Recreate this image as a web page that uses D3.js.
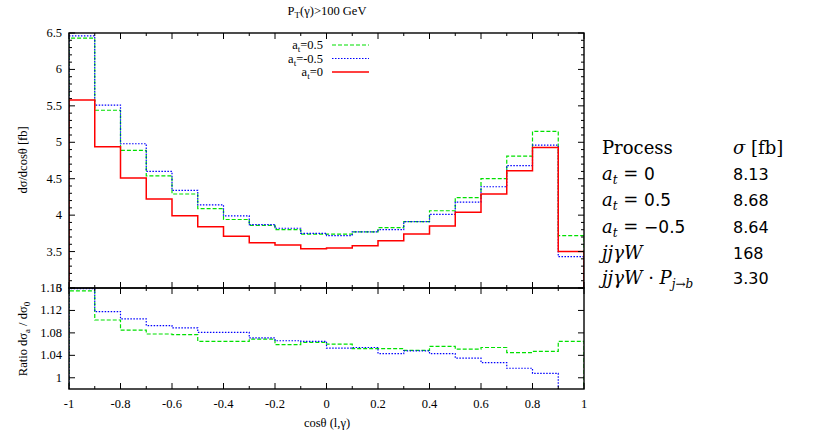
<!DOCTYPE html>
<html lang="en">
    <head>
        <meta charset="utf-8">
        <title>cos theta distribution</title>
        <script type="text/javascript" src="https://cdn.jsdelivr.net/npm/d3@7/dist/d3.min.js"></script>
        <style>
            body { margin: 0; background: #fff; }
        </style>
    </head>
    <body>
        <div id="chart"></div>
        <script type="text/javascript">
            // bins: lower edges of the cos(theta) bins, width 0.1
            var binLo = [-1, -0.9, -0.8, -0.7, -0.6, -0.5, -0.4, -0.3, -0.2, -0.1,
                         0, 0.1, 0.2, 0.3, 0.4, 0.5, 0.6, 0.7, 0.8, 0.9];
            var binHi = 1;
            // d sigma / d cos(theta) [fb]
            var at0   = [5.58, 4.94, 4.51, 4.22, 3.99, 3.84, 3.71, 3.62, 3.59, 3.54,
                         3.55, 3.58, 3.65, 3.74, 3.85, 4.04, 4.29, 4.61, 4.93, 3.50];
            var atP05 = [6.43, 5.44, 4.89, 4.54, 4.29, 4.09, 3.94, 3.86, 3.80, 3.74,
                         3.74, 3.77, 3.83, 3.91, 4.06, 4.24, 4.50, 4.81, 5.15, 3.72];
            var atM05 = [6.46, 5.51, 4.98, 4.60, 4.34, 4.14, 3.99, 3.87, 3.82, 3.75,
                         3.72, 3.77, 3.80, 3.91, 4.01, 4.18, 4.39, 4.68, 4.96, 3.43];
            // ratio d sigma_a / d sigma_0
            var ratioP05 = [1.155, 1.103, 1.085, 1.078, 1.077, 1.065, 1.065, 1.069, 1.059, 1.063,
                            1.060, 1.052, 1.052, 1.049, 1.056, 1.051, 1.054, 1.045, 1.047, 1.065];
            var ratioM05 = [1.159, 1.118, 1.105, 1.093, 1.089, 1.081, 1.081, 1.071, 1.066, 1.065,
                            1.053, 1.054, 1.043, 1.048, 1.043, 1.035, 1.027, 1.017, 1.008, 0.975];
            // tick labels
            var xTicks = [-1, -0.8, -0.6, -0.4, -0.2, 0, 0.2, 0.4, 0.6, 0.8, 1];
            var yTicks = [3, 3.5, 4, 4.5, 5, 5.5, 6, 6.5];
            var rTicks = [1, 1.04, 1.08, 1.12, 1.16];
            // cross-section table
            var procNames = ["at0", "atP05", "atM05", "jjgW", "jjgWP"];
            var procSigma = ["8.13", "8.68", "8.64", "168", "3.30"];

            var w = 813, h = 430;
            var left = 69, right = 584;
            var upTop = 33, upBot = 288, loBot = 389;
            var serif = "'Liberation Serif', 'Times New Roman', serif";
            var tabSerif = "'DejaVu Serif', serif";
            var sans = "'DejaVu Sans', sans-serif";

            var svg = d3.select("#chart").append("svg")
                        .attr("width", w)
                        .attr("height", h)
                        .attr("font-family", serif);

            var x = d3.scaleLinear().domain([-1, 1]).range([left, right]);
            var y = d3.scaleLinear().domain([3, 6.5]).range([upBot, upTop]);
            var yr = d3.scaleLinear().domain([0.98, 1.16]).range([loBot, upBot]);

            svg.append("clipPath").attr("id", "clipUp")
               .append("rect").attr("x", left).attr("y", upTop)
               .attr("width", right - left).attr("height", upBot - upTop);
            svg.append("clipPath").attr("id", "clipLo")
               .append("rect").attr("x", left).attr("y", upBot)
               .attr("width", right - left).attr("height", loBot - upBot);

            // histogram steps, with drops to the bottom at both ends
            function stepPath(vals, ys, base) {
                var pts = [[binLo[0], base]];
                vals.forEach(function (v, i) { pts.push([binLo[i], v]); });
                pts.push([binHi, vals[vals.length - 1]]);
                pts.push([binHi, base]);
                return d3.line()
                         .x(function (d) { return x(d[0]); })
                         .y(function (d) { return ys(d[1]); })
                         .curve(d3.curveStepAfter)(pts);
            }

            var styles = {
                green: { color: "#00e000", dash: "4,2", width: 1.2 },
                blue:  { color: "#0000ff", dash: "1.5,1.5", width: 1.2 },
                red:   { color: "#ff0000", dash: null, width: 1.5 }
            };

            function drawSeries(g, vals, ys, base, st) {
                g.append("path")
                 .attr("d", stepPath(vals, ys, base))
                 .attr("fill", "none")
                 .attr("stroke", st.color)
                 .attr("stroke-width", st.width)
                 .attr("stroke-dasharray", st.dash);
            }

            var gUp = svg.append("g").attr("clip-path", "url(#clipUp)");
            drawSeries(gUp, atP05, y, 3, styles.green);
            drawSeries(gUp, atM05, y, 3, styles.blue);
            drawSeries(gUp, at0, y, 3, styles.red);

            var gLo = svg.append("g").attr("clip-path", "url(#clipLo)");
            drawSeries(gLo, ratioP05, yr, 0.9, styles.green);
            drawSeries(gLo, ratioM05, yr, 0.9, styles.blue);

            // ticks, gnuplot style: inside, mirrored
            var ticks = svg.append("g").attr("stroke", "#000").attr("stroke-width", 1);
            function hTick(ypos, len) {
                ticks.append("line").attr("x1", left).attr("x2", left + len).attr("y1", ypos).attr("y2", ypos);
                ticks.append("line").attr("x1", right).attr("x2", right - len).attr("y1", ypos).attr("y2", ypos);
            }
            function vTick(xpos, top, bot, len) {
                ticks.append("line").attr("x1", xpos).attr("x2", xpos).attr("y1", bot).attr("y2", bot - len);
                ticks.append("line").attr("x1", xpos).attr("x2", xpos).attr("y1", top).attr("y2", top + len);
            }
            y.ticks(35).forEach(function (v) {
                var major = yTicks.some(function (t) { return Math.abs(t - v) < 1e-6; });
                hTick(y(v), major ? 6 : 3);
            });
            rTicks.forEach(function (v) { hTick(yr(v), 6); });
            x.ticks(20).forEach(function (v) {
                var major = xTicks.some(function (t) { return Math.abs(t - v) < 1e-6; });
                vTick(x(v), upTop, upBot, major ? 6 : 3);
                vTick(x(v), upBot, loBot, major ? 6 : 3);
            });

            // frames
            svg.append("rect").attr("x", left).attr("y", upTop)
               .attr("width", right - left).attr("height", upBot - upTop)
               .attr("fill", "none").attr("stroke", "#000").attr("stroke-width", 1.4);
            svg.append("rect").attr("x", left).attr("y", upBot)
               .attr("width", right - left).attr("height", loBot - upBot)
               .attr("fill", "none").attr("stroke", "#000").attr("stroke-width", 1.4);

            // tick labels
            var lab = svg.append("g").attr("font-size", 12.5);
            yTicks.forEach(function (v) {
                lab.append("text").attr("x", 62).attr("y", y(v) + 4)
                   .attr("text-anchor", "end").text(v);
            });
            rTicks.forEach(function (v) {
                lab.append("text").attr("x", 62).attr("y", yr(v) + 4)
                   .attr("text-anchor", "end").text(v);
            });
            xTicks.forEach(function (v) {
                lab.append("text").attr("x", x(v)).attr("y", 408)
                   .attr("text-anchor", "middle").text(v);
            });

            // titles
            var title = svg.append("text").attr("x", 327).attr("y", 15)
                           .attr("text-anchor", "middle").attr("font-size", 12.5);
            title.append("tspan").text("P");
            title.append("tspan").attr("dy", 3).attr("font-size", 9).text("T");
            title.append("tspan").attr("dy", -3).text("(γ)>100 GeV");

            svg.append("text").attr("x", 327).attr("y", 427)
               .attr("text-anchor", "middle").attr("font-size", 12.5)
               .text("cosθ (l,γ)");

            svg.append("text").attr("transform", "translate(27,160) rotate(-90)")
               .attr("text-anchor", "middle").attr("font-size", 12.5)
               .text("dσ/dcosθ [fb]");

            var rl = svg.append("text").attr("transform", "translate(27,339) rotate(-90)")
                        .attr("text-anchor", "middle").attr("font-size", 12.5);
            rl.append("tspan").text("Ratio dσ");
            rl.append("tspan").attr("dy", 3).attr("font-size", 9).text("a");
            rl.append("tspan").attr("dy", -3).text(" / dσ");
            rl.append("tspan").attr("dy", 3).attr("font-size", 9).text("0");

            // legend
            var legend = [
                { label: "=0.5", st: styles.green },
                { label: "=-0.5", st: styles.blue },
                { label: "=0", st: styles.red }
            ];
            legend.forEach(function (d, i) {
                var ly = 45 + i * 13.5;
                var t = svg.append("text").attr("x", 323).attr("y", ly + 4)
                           .attr("text-anchor", "end").attr("font-size", 12.5);
                t.append("tspan").text("a");
                t.append("tspan").attr("dy", 3).attr("font-size", 9).text("t");
                t.append("tspan").attr("dy", -3).text(d.label);
                svg.append("line").attr("x1", 332).attr("x2", 369)
                   .attr("y1", ly).attr("y2", ly)
                   .attr("stroke", d.st.color).attr("stroke-width", d.st.width)
                   .attr("stroke-dasharray", d.st.dash);
            });

            // cross-section table
            var tx = 602, sx = 733, rowY = [154, 180, 206, 233, 259, 284];
            var tab = svg.append("g").attr("font-size", 18).attr("font-family", tabSerif);
            tab.append("text").attr("x", tx).attr("y", rowY[0]).text("Process");
            var sh = tab.append("text").attr("x", sx).attr("y", rowY[0]);
            sh.append("tspan").attr("font-style", "italic").text("σ");
            sh.append("tspan").text("  [fb]");

            function mathRow(t, name) {
                function it(s) { return t.append("tspan").attr("font-style", "italic").text(s); }
                function sub(s) { return t.append("tspan").attr("font-style", "italic").attr("font-size", 12).attr("dy", 4).text(s); }
                function up(s) { return t.append("tspan").attr("dy", -4).text(s); }
                function num(s) { return t.append("tspan").attr("font-family", sans).attr("font-size", 17).text(s); }
                if (name === "at0" || name === "atP05" || name === "atM05") {
                    it("a"); sub("t"); up(" = ");
                    num(name === "at0" ? "0" : name === "atP05" ? "0.5" : "−0.5");
                } else {
                    it("jjγW");
                    if (name === "jjgWP") {
                        t.append("tspan").text(" · ");
                        it("P"); sub("j→b"); up("");
                    }
                }
            }
            procNames.forEach(function (n, i) {
                var t = tab.append("text").attr("x", tx).attr("y", rowY[i + 1]);
                mathRow(t, n);
                tab.append("text").attr("x", sx).attr("y", rowY[i + 1])
                   .attr("font-family", sans).attr("font-size", 16)
                   .text(procSigma[i]);
            });
        </script>
    </body>
</html>
